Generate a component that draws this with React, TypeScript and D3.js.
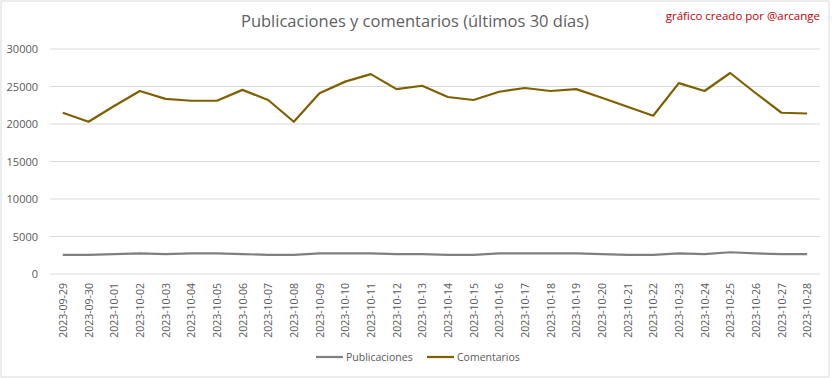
import React from "react";
import * as d3 from "d3";

const dates = [
  "2023-09-29","2023-09-30","2023-10-01","2023-10-02","2023-10-03","2023-10-04","2023-10-05","2023-10-06","2023-10-07","2023-10-08",
  "2023-10-09","2023-10-10","2023-10-11","2023-10-12","2023-10-13","2023-10-14","2023-10-15","2023-10-16","2023-10-17","2023-10-18",
  "2023-10-19","2023-10-20","2023-10-21","2023-10-22","2023-10-23","2023-10-24","2023-10-25","2023-10-26","2023-10-27","2023-10-28",
];
const publicaciones = [
  2550, 2550, 2650, 2750, 2650, 2750, 2750, 2650, 2550, 2550,
  2750, 2750, 2750, 2650, 2650, 2550, 2550, 2750, 2750, 2750,
  2750, 2650, 2550, 2550, 2750, 2650, 2900, 2750, 2650, 2650,
];
const comentarios = [
  21500, 20300, 22400, 24400, 23350, 23100, 23100, 24550, 23200, 20300,
  24100, 25650, 26650, 24650, 25100, 23600, 23200, 24300, 24800, 24400,
  24650, 23500, 22300, 21100, 25450, 24400, 26800, 24100, 21500, 21400,
];
const yTicks = [0, 5000, 10000, 15000, 20000, 25000, 30000];

const W = 832, H = 378;
const left = 50, right = 820, top = 49, bottom = 274;
const font = "'Open Sans', 'Liberation Sans', sans-serif";
const textColor = "#595959";

export default function App() {
  const x = d3.scaleBand<string>().domain(dates).range([left, right]);
  const y = d3.scaleLinear().domain([0, 30000]).range([bottom, top]);
  const cx = (d: string) => (x(d) as number) + x.bandwidth() / 2;
  const line = d3.line<number>().x((_, i) => cx(dates[i])).y((v) => y(v));

  return (
    <svg width={W} height={H} style={{ position: "fixed", left: 0, top: 0, background: "#fff" }}>
      <rect x={1} y={1} width={828} height={376} fill="#fff" stroke="#d9d9d9" strokeWidth={1} />
      <text x={415} y={27} textAnchor="middle" fontFamily={font} fontSize={16.5} fill="#5f5f5f">
        Publicaciones y comentarios (últimos 30 días)
      </text>
      <text x={820} y={20} textAnchor="end" fontFamily={font} fontSize={11.5} fill="#c00000">
        gráfico creado por @arcange
      </text>
      {yTicks.map((t) => (
        <g key={t}>
          <line x1={left} x2={right} y1={y(t)} y2={y(t)} stroke="#d9d9d9" strokeWidth={1} />
          <text x={38} y={y(t) + 4} textAnchor="end" fontFamily={font} fontSize={11} fill={textColor}>
            {t}
          </text>
        </g>
      ))}
      {dates.map((d) => (
        <text
          key={d}
          transform={`translate(${cx(d) + 4},${283}) rotate(-90)`}
          textAnchor="end"
          fontFamily={font}
          fontSize={10.5}
          fill={textColor}
        >
          {d}
        </text>
      ))}
      <path d={line(publicaciones) || ""} fill="none" stroke="#7f7f7f" strokeWidth={2.2} strokeLinejoin="round" />
      <path d={line(comentarios) || ""} fill="none" stroke="#7f6000" strokeWidth={2.2} strokeLinejoin="round" />
      <g fontFamily={font} fontSize={10.5} fill={textColor}>
        <line x1={316} x2={343} y1={357} y2={357} stroke="#7f7f7f" strokeWidth={2.2} />
        <text x={346} y={361}>Publicaciones</text>
        <line x1={427} x2={454} y1={357} y2={357} stroke="#7f6000" strokeWidth={2.2} />
        <text x={457} y={361}>Comentarios</text>
      </g>
    </svg>
  );
}
